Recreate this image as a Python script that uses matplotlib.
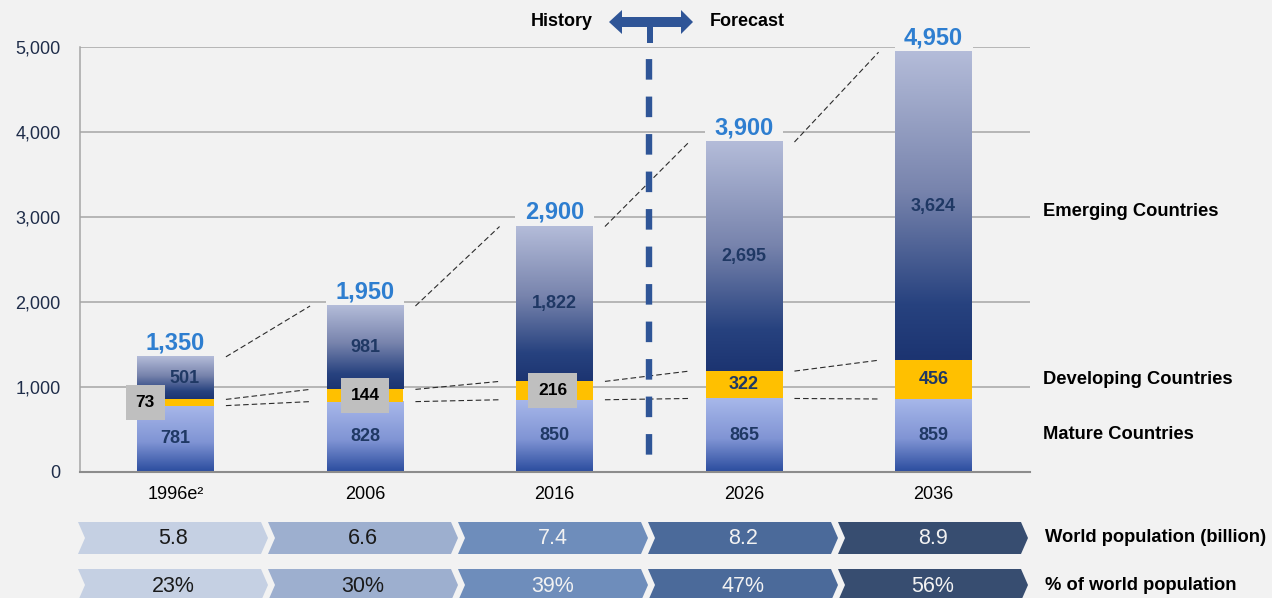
import numpy as np
import matplotlib.pyplot as plt
from matplotlib.colors import LinearSegmentedColormap
from matplotlib.patches import Polygon, Rectangle

plt.rcParams['font.family'] = ['Liberation Sans', 'DejaVu Sans']
plt.rcParams['lines.scale_dashes'] = False

# ------------------------------------------------------------
# data
# ------------------------------------------------------------
years = ['1996e\u00b2', '2006', '2016', '2026', '2036']
mature = [781, 828, 850, 865, 859]
developing = [73, 144, 216, 322, 456]
emerging = [501, 981, 1822, 2695, 3624]
totals = [1350, 1950, 2900, 3900, 4950]
world_pop = ['5.8', '6.6', '7.4', '8.2', '8.9']
pop_share = ['23%', '30%', '39%', '47%', '56%']

BG = '#F2F2F2'
NAVY = '#1F3864'
YELLOW = '#FFC000'
DIVIDER = '#2F5597'

fig = plt.figure(figsize=(12.72, 5.98), dpi=100, facecolor=BG)
ax = fig.add_axes([80 / 1272, 126 / 598, 950 / 1272, 425 / 598], facecolor=BG)

x = np.arange(len(years))
w = 0.406
mature = np.array(mature)
developing = np.array(developing)
emerging = np.array(emerging)
dev_top = mature + developing
stack_top = dev_top + emerging

cm_mature = LinearSegmentedColormap.from_list(
    'mature', [(0, '#2A4C9E'), (0.45, '#8094D4'), (1, '#A8B8EA')])
cm_emerging = LinearSegmentedColormap.from_list(
    'emerging', [(0, '#1C3471'), (0.18, '#27427F'), (0.55, '#7884AD'), (1, '#B4BCD9')])
ramp = np.linspace(0, 1, 256).reshape(-1, 1)


def gradient_segment(xc, bottom, top, cmap):
    ax.imshow(ramp, extent=(xc - w / 2, xc + w / 2, bottom, top), origin='lower',
              aspect='auto', cmap=cmap, interpolation='bilinear', zorder=2)


for i in range(len(x)):
    gradient_segment(x[i], 0, mature[i], cm_mature)
    ax.bar(x[i], developing[i], w, bottom=mature[i], color=YELLOW, zorder=2)
    gradient_segment(x[i], dev_top[i], stack_top[i], cm_emerging)

# connectors between neighbouring bars
for i in range(len(x) - 1):
    xs = x[i] + w / 2 + 0.063
    xe = x[i + 1] - w / 2 - 0.087
    for lev in (stack_top, dev_top, mature):
        ax.plot([xs, xe], [lev[i], lev[i + 1]], color='#2B2B2B', lw=0.8,
                dashes=(4, 2.2), zorder=3)

# history / forecast divider
ax.plot([2.5, 2.5], [5000, 0], color=DIVIDER, lw=4.6,
        linestyle=(18.3, (14.8, 12.2)), solid_capstyle='butt',
        dash_capstyle='butt', zorder=4)

# value labels
seg_font = dict(fontsize=13, fontweight='bold', color=NAVY, ha='center', va='center', zorder=6)
total_font = dict(fontsize=17, fontweight='bold', ha='center', va='center')
for i in range(len(x)):
    ax.text(x[i], mature[i] / 2, f'{mature[i]:,}', **seg_font)
    dx = 0.05 if i == 0 else 0
    ax.text(x[i] + dx, dev_top[i] + emerging[i] / 2, f'{emerging[i]:,}', **seg_font)
    if i >= 3:
        ax.text(x[i], mature[i] + developing[i] / 2, f'{developing[i]:,}', **seg_font)
    # background patch cuts the gridline but stays under the bar
    ax.text(x[i], stack_top[i] + 165, f'{totals[i]:,}', color=BG, zorder=1.5,
            bbox=dict(boxstyle='square,pad=0.4', fc=BG, ec='none'), **total_font)
    ax.text(x[i], stack_top[i] + 165, f'{totals[i]:,}', color='#2E7ED0', zorder=6,
            **total_font)

# boxed labels for the thin developing segments
box_dx = [-0.16, 0, -0.01]
for i in range(3):
    ax.text(x[i] + box_dx[i], mature[i] + developing[i] / 2, f'{developing[i]:,}',
            fontsize=12.5, fontweight='bold', color='black', ha='center', va='center',
            zorder=7, bbox=dict(boxstyle='square,pad=0.56', fc='#BFBFBF', ec='none'))

# series names on the right
for name, yv in [('Emerging Countries', 3070), ('Developing Countries', 1094),
                 ('Mature Countries', 447)]:
    ax.text(1.0137, yv, name, transform=ax.get_yaxis_transform(), fontsize=13.2,
            fontweight='bold', color='black', ha='left', va='center', clip_on=False)

ax.set_xlim(-0.504, 4.509)
ax.set_ylim(0, 5000)
ax.set_yticks(range(0, 5001, 1000))
ax.set_yticklabels([f'{v:,}' for v in range(0, 5001, 1000)], fontsize=13, color='#1F2D4A')
ax.set_xticks(x)
ax.set_xticklabels(years, fontsize=13, color='black')
ax.tick_params(axis='y', length=0, pad=14)
ax.tick_params(axis='x', length=0, pad=10)
ax.grid(axis='y', color='#A6A6A6', lw=1.1, zorder=1)
ax.set_axisbelow(True)
for s in ('top', 'right'):
    ax.spines[s].set_visible(False)
ax.spines['left'].set_color('#A6A6A6')
ax.spines['left'].set_linewidth(1.1)
ax.spines['bottom'].set_color('#8C8C8C')
ax.spines['bottom'].set_linewidth(1.5)
ax.spines['bottom'].set_zorder(5)

# ------------------------------------------------------------
# overlay in pixel units: arrow and chevron rows
# ------------------------------------------------------------
ov = fig.add_axes([0, 0, 1, 1])
ov.set_xlim(0, 1272)
ov.set_ylim(598, 0)
ov.axis('off')

arrow = [(609, 22), (622, 10), (622, 17), (681, 17), (681, 10), (693, 22),
         (681, 34), (681, 27), (622, 27), (622, 34)]
ov.add_patch(Polygon(arrow, closed=True, fc=DIVIDER, ec='none'))
ov.add_patch(Rectangle((646.5, 27), 6, 16, fc=DIVIDER, ec='none'))
ov.text(593, 21, 'History', fontsize=13, fontweight='bold', ha='right', va='center')
ov.text(710, 21, 'Forecast', fontsize=13, fontweight='bold', ha='left', va='center')

chev_colors = ['#C5D0E3', '#9DAFCF', '#6E8DBB', '#4B6A9A', '#374D70']
chev_text = ['#1A1A1A', '#1A1A1A', '#F2F2F2', '#F2F2F2', '#F2F2F2']
rows = [(522, 554, world_pop, 'World population (billion)'),
        (569, 601, pop_share, '% of world population')]
W, tip = 183, 7
for top, bot, vals, label in rows:
    mid = (top + bot) / 2
    for i, v in enumerate(vals):
        x0 = 78 + 190 * i
        pts = [(x0, top), (x0 + W, top), (x0 + W + tip, mid), (x0 + W, bot),
               (x0, bot), (x0 + tip, mid)]
        ov.add_patch(Polygon(pts, closed=True, fc=chev_colors[i], ec='none'))
        ov.text(x0 + (W + tip) / 2, mid + 1, v, fontsize=15.5, color=chev_text[i],
                ha='center', va='center')
    ov.text(1045, mid, label, fontsize=13.2, fontweight='bold', ha='left', va='center')

fig.savefig('out.png', dpi=100, facecolor=BG)
